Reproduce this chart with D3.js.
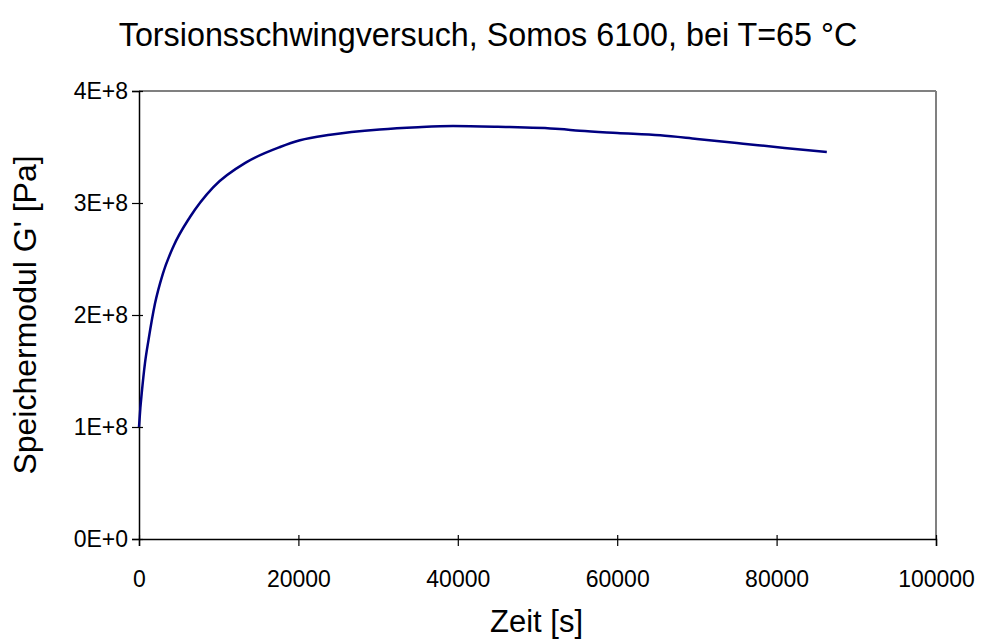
<!DOCTYPE html>
<html>
<head>
<meta charset="utf-8">
<script src="https://cdn.jsdelivr.net/npm/d3@7"></script>
<style>
  html, body { margin: 0; padding: 0; background: #fff; }
  svg { display: block; font-family: "Liberation Sans", Arial, sans-serif; }
</style>
</head>
<body>
<svg id="chart" width="983" height="641"></svg>
<script>
const titleText = "Torsionsschwingversuch, Somos 6100, bei T=65 °C";
const xLabel = "Zeit [s]";
const yLabel = "Speichermodul G' [Pa]";

const xTicks = [0, 20000, 40000, 60000, 80000, 100000];
const yTicks = [0, 1e8, 2e8, 3e8, 4e8];
const yTickLabels = ["0E+0", "1E+8", "2E+8", "3E+8", "4E+8"];

const timeSec = [0, 170, 340, 750, 1200, 2000, 3000, 4300, 6400, 9300, 13500, 17700, 20200, 24000, 30200, 35000, 39400, 45000, 52800, 55300, 60000, 65400, 70000, 75800, 81000, 86300];
const storageModulus = [1.0e8, 1.17e8, 1.30e8, 1.57e8, 1.78e8, 2.10e8, 2.37e8, 2.61e8, 2.875e8, 3.14e8, 3.365e8, 3.50e8, 3.56e8, 3.61e8, 3.657e8, 3.677e8, 3.687e8, 3.68e8, 3.66e8, 3.645e8, 3.625e8, 3.604e8, 3.572e8, 3.53e8, 3.492e8, 3.455e8];

const margin = { left: 139, right: 983 - 936, top: 91, bottom: 641 - 539 };
const W = 983, H = 641;
const svg = d3.select("#chart");

const x = d3.scaleLinear().domain([0, 100000]).range([margin.left, W - margin.right]);
const y = d3.scaleLinear().domain([0, 4e8]).range([H - margin.bottom, margin.top]);

// plot frame: top and right grey
svg.append("line").attr("x1", x(0)).attr("x2", x(100000)).attr("y1", y(4e8)).attr("y2", y(4e8))
  .attr("stroke", "#808080").attr("stroke-width", 2);
svg.append("line").attr("x1", x(100000)).attr("x2", x(100000)).attr("y1", y(4e8)).attr("y2", y(0))
  .attr("stroke", "#808080").attr("stroke-width", 2);

// x axis
const xAxis = d3.axisBottom(x).tickValues(xTicks).tickFormat(d3.format("d")).tickSize(7).tickPadding(0);
const gx = svg.append("g").attr("transform", `translate(0,${y(0)})`).call(xAxis);
gx.select(".domain").attr("stroke", "#000").attr("stroke-width", 1.5);
gx.selectAll(".tick line").attr("stroke", "#000").attr("stroke-width", 1.2).attr("y1", -4);
gx.selectAll(".tick text").attr("font-size", 23).attr("font-family", "Liberation Sans, Arial, sans-serif")
  .attr("fill", "#000").attr("dy", null).attr("y", 48);

// y axis
const yAxis = d3.axisLeft(y).tickValues(yTicks).tickFormat((d, i) => yTickLabels[i]).tickSize(7).tickPadding(5);
const gy = svg.append("g").attr("transform", `translate(${x(0)},0)`).call(yAxis);
gy.select(".domain").attr("stroke", "#000").attr("stroke-width", 1.5);
gy.selectAll(".tick line").attr("stroke", "#000").attr("stroke-width", 1.2).attr("x1", 4);
gy.selectAll(".tick text").attr("font-size", 23).attr("font-family", "Liberation Sans, Arial, sans-serif")
  .attr("fill", "#000").attr("x", -11);

// curve
const line = d3.line().x((d, i) => x(timeSec[i])).y((d) => y(d)).curve(d3.curveMonotoneX);
svg.append("path").datum(storageModulus).attr("d", line)
  .attr("fill", "none").attr("stroke", "#000080").attr("stroke-width", 2.5);

// title
svg.append("text").attr("x", 488).attr("y", 46).attr("text-anchor", "middle")
  .attr("font-size", 32.3).attr("fill", "#000").text(titleText);

// x label
svg.append("text").attr("x", (x(0) + x(100000)) / 2 - 1).attr("y", 632).attr("text-anchor", "middle")
  .attr("font-size", 31).attr("fill", "#000").text(xLabel);

// y label
svg.append("text").attr("transform", `translate(36,${(y(0) + y(4e8)) / 2}) rotate(-90)`)
  .attr("text-anchor", "middle").attr("font-size", 32).attr("fill", "#000").text(yLabel);
</script>
</body>
</html>
